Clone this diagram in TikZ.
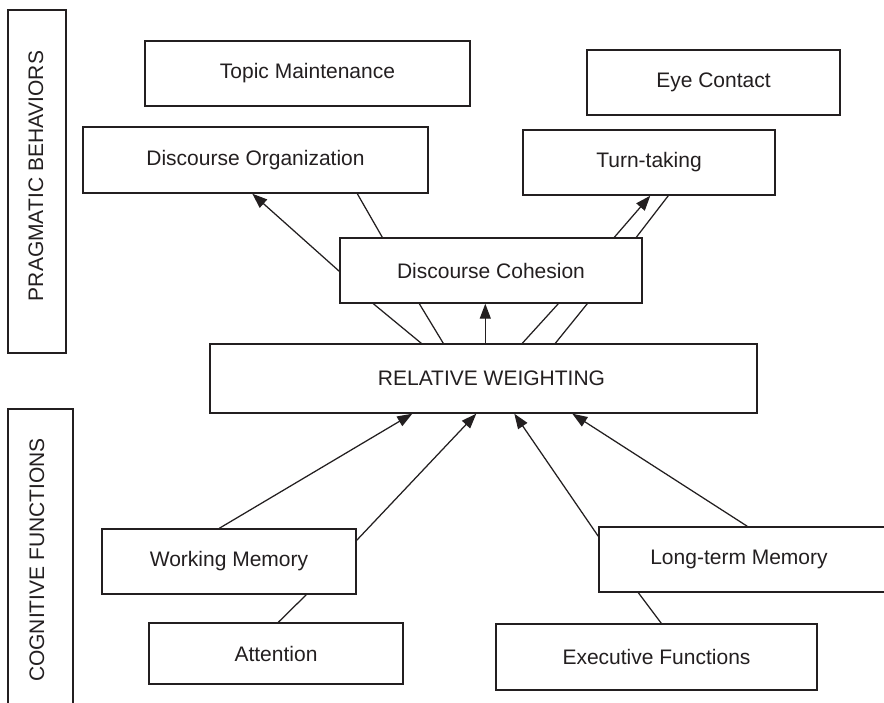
\documentclass[tikz,border=0pt]{standalone}
\usepackage{fontspec}
\setmainfont{Liberation Sans}
\usetikzlibrary{arrows.meta}
\definecolor{ink}{HTML}{231F20}
\begin{document}
\begin{tikzpicture}[x=1pt,y=-1pt,
  box/.style={draw=ink, line width=1.4pt, rectangle, inner sep=0pt,
    text=ink, font=\fontsize{21}{25}\selectfont},
  link/.style={draw=ink, line width=1.25pt},
  arr/.style={link, -{Triangle[length=15pt,width=11pt]}}]
\useasboundingbox (0,0) rectangle (884,703);
\fill[white] (0,0) rectangle (884,703);

% side headings
\node[box, minimum width=58pt, minimum height=343pt] (pb) at (37,181.5) {};
\node[text=ink, font=\fontsize{21}{25}\selectfont, rotate=90] at (36,176) {PRAGMATIC BEHAVIORS};
\node[box, minimum width=65pt, minimum height=301pt] (cf) at (40.5,559.5) {};
\node[text=ink, font=\fontsize{21}{25}\selectfont, rotate=90] at (37,560) {COGNITIVE FUNCTIONS};

% pragmatic behaviours
\node[box, minimum width=325pt, minimum height=65pt] (tm) at (307.5,73.5) {Topic Maintenance};
\node[box, minimum width=253pt, minimum height=65pt] (ec) at (713.5,82.5) {Eye Contact};
\node[box, minimum width=345pt, minimum height=66pt] (do) at (255.5,160) {Discourse Organization};
\node[box, minimum width=252pt, minimum height=65pt] (tt) at (649,162.5) {Turn-taking};
\node[box, minimum width=302pt, minimum height=65pt] (dc) at (491,270.5) {Discourse Cohesion};

% weighting
\node[box, minimum width=547pt, minimum height=69pt] (rw) at (483.5,378.5) {\hspace*{16pt}RELATIVE WEIGHTING};

% cognitive functions
\node[box, minimum width=254pt, minimum height=65pt] (wm) at (229,561.5) {Working Memory};
\node[box, minimum width=296pt, minimum height=65pt] (ltm) at (747,559.5) {\hspace*{-16pt}Long-term Memory};
\node[box, minimum width=254pt, minimum height=61pt] (att) at (276,653.5) {Attention};
\node[box, minimum width=321pt, minimum height=66pt] (ef) at (656.5,657) {Executive Functions};

% cohesion to the upper behaviours
\draw[arr] ([yshift=-34pt]dc.north west) -- ([xshift=170pt]do.south west);
\draw[link] ([xshift=275pt]do.south west) -- ([xshift=43pt]dc.north west);
\draw[arr] ([xshift=275pt]dc.north west) -- ([xshift=128pt]tt.south west);
\draw[link] ([xshift=146pt]tt.south west) -- ([xshift=297pt]dc.north west);

% weighting to cohesion
\draw[link] ([xshift=212pt]rw.north west) -- ([xshift=34pt]dc.south west);
\draw[link] ([xshift=234pt]rw.north west) -- ([xshift=80pt]dc.south west);
\draw[arr]  ([xshift=276pt]rw.north west) -- ([xshift=146pt]dc.south west);
\draw[link] ([xshift=313pt]rw.north west) -- ([xshift=219pt]dc.south west);
\draw[link] ([xshift=346pt]rw.north west) -- ([xshift=248pt]dc.south west);

% cognitive functions to weighting
\draw[arr] ([xshift=118pt]wm.north west) -- ([xshift=203pt]rw.south west);
\draw[arr] ([yshift=-12pt]wm.north east) -- ([xshift=267pt]rw.south west);
\draw[arr] ([yshift=-10pt]ltm.north west) -- ([xshift=305pt]rw.south west);
\draw[arr] ([xshift=149pt]ltm.north west) -- ([xshift=363pt]rw.south west);

% lower links
\draw[link] ([xshift=130pt]att.north west) -- ([xshift=205pt]wm.south west);
\draw[link] ([xshift=166pt]ef.north west) -- ([xshift=40pt]ltm.south west);
\end{tikzpicture}
\end{document}
